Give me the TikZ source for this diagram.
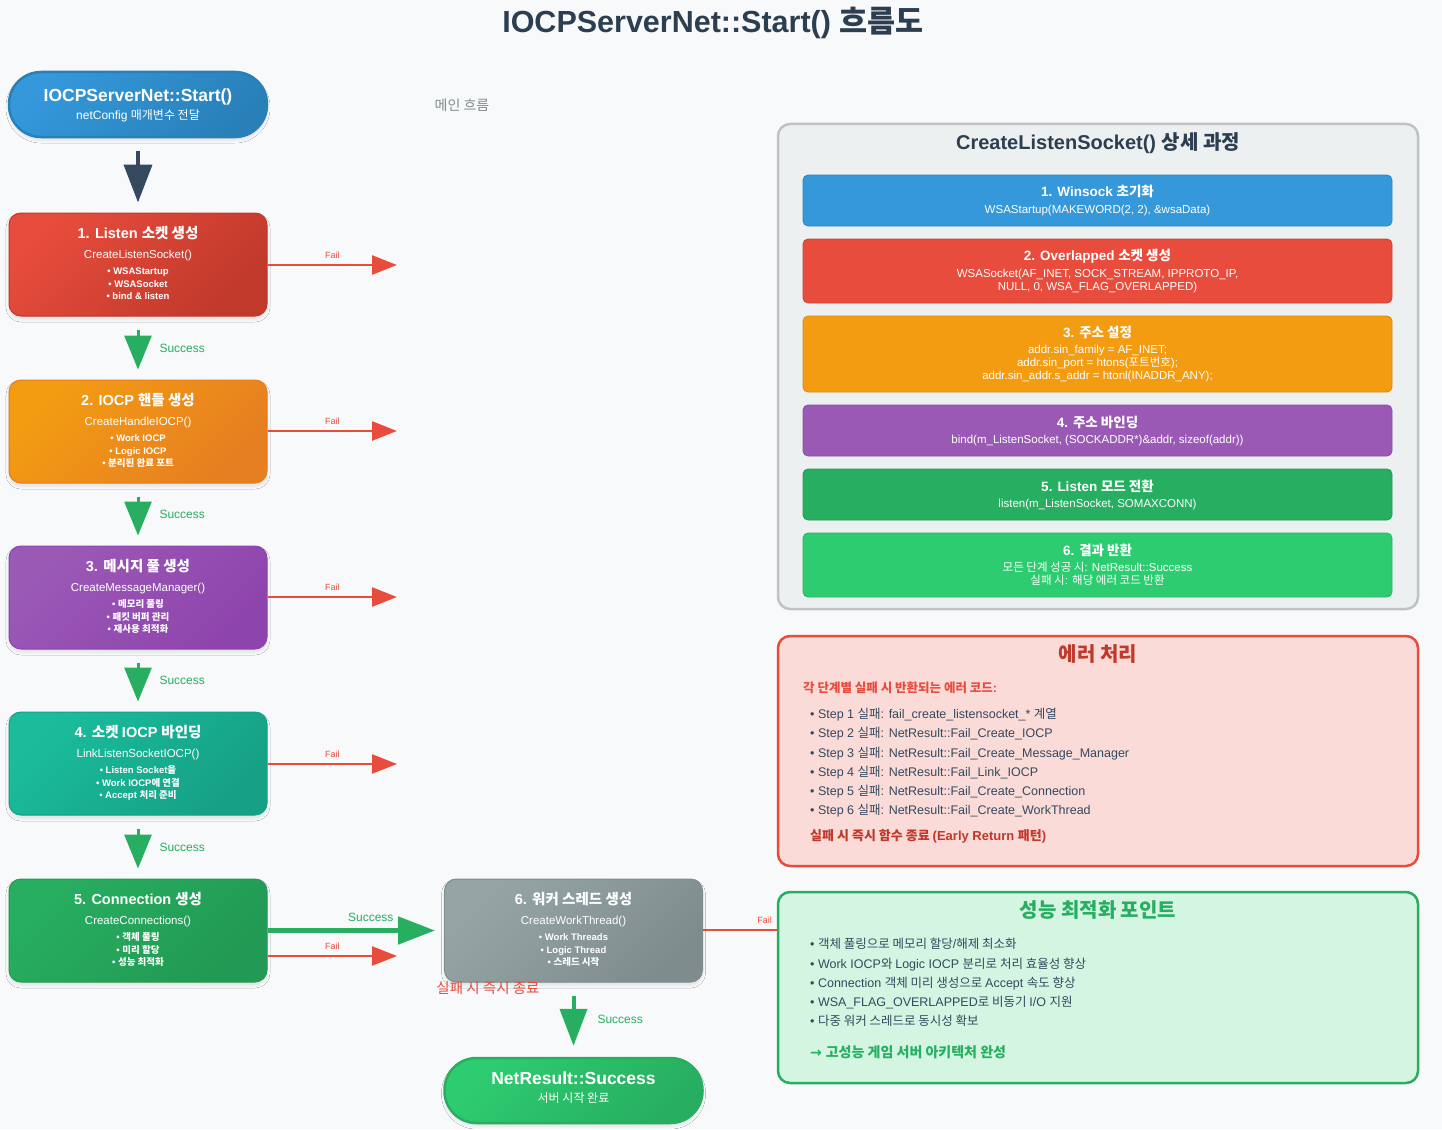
\documentclass[tikz,border=0pt]{standalone}
\usepackage{fontspec}
\setmainfont{Liberation Sans}
\newfontfamily\krfont{Noto Sans CJK KR}
\newfontfamily\symfont{DejaVu Sans}
\usetikzlibrary{arrows.meta,shadows.blur}

% Hangul syllables are set in the CJK family, everything else in Liberation Sans
\newcount\krcode
\newXeTeXintercharclass\krclass
\krcode="AC00
\loop
  \XeTeXcharclass\krcode=\krclass
  \advance\krcode by 1
\ifnum\krcode<"D7A4 \repeat
\newcount\othercls
\othercls=0
\loop
  \XeTeXinterchartoks\othercls\krclass={\krfont}
  \XeTeXinterchartoks\krclass\othercls={\rmfamily}
  \XeTeXinterchartoks 4095 \othercls={\rmfamily}
  \advance\othercls by 1
\ifnum\othercls<\krclass \repeat
\XeTeXinterchartoks 4095 \krclass={\krfont}

% a symbol set outside the font switching
\newcommand\sym[1]{\hbox{\XeTeXinterchartokenstate=0 \symfont #1}}

\definecolor{bgc}{HTML}{F8F9FA}
\definecolor{ink}{HTML}{2C3E50}
\definecolor{inkb}{HTML}{34495E}
\definecolor{muted}{HTML}{7F8C8D}
\definecolor{blueA}{HTML}{3498DB}\definecolor{blueB}{HTML}{2980B9}
\definecolor{redA}{HTML}{E74C3C}\definecolor{redB}{HTML}{C0392B}
\definecolor{orA}{HTML}{F39C12}\definecolor{orB}{HTML}{E67E22}
\definecolor{puA}{HTML}{9B59B6}\definecolor{puB}{HTML}{8E44AD}
\definecolor{teA}{HTML}{1ABC9C}\definecolor{teB}{HTML}{16A085}
\definecolor{grA}{HTML}{27AE60}\definecolor{grB}{HTML}{229954}
\definecolor{gyA}{HTML}{95A5A6}\definecolor{gyB}{HTML}{7F8C8D}
\definecolor{lgA}{HTML}{2ECC71}
\definecolor{panelbg}{HTML}{ECF0F1}\definecolor{panelln}{HTML}{BDC3C7}
\definecolor{errbg}{HTML}{FADBD8}\definecolor{perfbg}{HTML}{D5F5E3}

% text placed by its visual centre line
\newcommand\tx[6][]{\node[anchor=base,inner sep=0pt,font=\fontsize{#5pt}{#5pt}\selectfont,#1] (#2) at (#3,{#4+0.36*#5}) {#6};}
% the five text lines of a flow step
\newcommand\steptext[8]{%
  \tx[white]{#1t}{#2}{#3-31.5}{14.5}{\bfseries #4}
  \tx[white]{#1f}{#2}{#3-10.5}{11.5}{#5}
  \tx[white]{#1a}{#2}{#3+6.5}{9.5}{\bfseries • #6}
  \tx[white]{#1b}{#2}{#3+19.5}{9.5}{\bfseries • #7}
  \tx[white]{#1c}{#2}{#3+32}{9.5}{\bfseries • #8}}

\begin{document}
\XeTeXinterchartokenstate=1
\begin{tikzpicture}[x=1pt,y=-1pt,
  softshadow/.style={blur shadow={shadow xshift=0pt,shadow yshift=-3pt,shadow blur radius=3pt,shadow opacity=10}},
  flowbox/.style 2 args={rounded corners=12pt,minimum width=258pt,minimum height=103pt,inner sep=0pt,
    draw=#2,line width=1pt,top color=#1,bottom color=#2,shading angle=45,softshadow},
  pill/.style 2 args={rounded corners=32pt,minimum width=258pt,minimum height=65pt,inner sep=0pt,
    draw=#2,line width=2.5pt,top color=#1,bottom color=#2,shading angle=45,softshadow},
  detail/.style 2 args={rounded corners=5pt,minimum width=589pt,minimum height=#2,inner sep=0pt,
    fill=#1,draw=#1!88!black,line width=0.8pt},
  infobox/.style 2 args={rounded corners=12pt,minimum width=640pt,minimum height=#2,inner sep=0pt,
    fill=#1,line width=2.5pt},
  failarrow/.style={draw=redA,line width=2.5pt,-{Triangle[length=25pt,width=19pt]}},
  downarrow/.style={draw=grA,line width=3pt,-{Triangle[length=34pt,width=27pt]},shorten <=13pt,shorten >=10pt},
  faillabel/.style={text=redA,font=\fontsize{9pt}{9pt}\selectfont,inner sep=0pt},
  succlabel/.style={text=grA,font=\fontsize{12pt}{12pt}\selectfont,inner sep=0pt},
]
\useasboundingbox[fill=bgc] (0,0) rectangle (1442,1129);

% ---------- title ----------
\tx[text=ink]{title}{713}{22}{30.5}{\bfseries IOCPServerNet::Start() 흐름도}
\tx[text=muted]{mainlbl}{462}{105}{14}{메인 흐름}

% ---------- main flow ----------
\node[pill={blueA}{blueB}] (start) at (138,104.5) {};
\tx[white]{startT}{138}{95}{17.5}{\bfseries IOCPServerNet::Start()}
\tx[white]{startS}{138}{115}{12}{netConfig 매개변수 전달}

\node[flowbox={redA}{redB}] (s1) at (138,264.5) {};
\node[flowbox={orA}{orB}]   (s2) at (138,431.5) {};
\node[flowbox={puA}{puB}]   (s3) at (138,597.5) {};
\node[flowbox={teA}{teB}]   (s4) at (138,763.5) {};
\node[flowbox={grA}{grB}]   (s5) at (138,930.5) {};
\node[flowbox={gyA}{gyB}]   (s6) at (573.5,930.5) {};
\node[pill={lgA}{grA}]      (fin) at (573.5,1090.5) {};

\steptext{s1}{138}{264.5}{1. Listen 소켓 생성}{CreateListenSocket()}{WSAStartup}{WSASocket}{bind \& listen}
\steptext{s2}{138}{431.5}{2. IOCP 핸들 생성}{CreateHandleIOCP()}{Work IOCP}{Logic IOCP}{분리된 완료 포트}
\steptext{s3}{138}{597.5}{3. 메시지 풀 생성}{CreateMessageManager()}{메모리 풀링}{패킷 버퍼 관리}{재사용 최적화}
\steptext{s4}{138}{763.5}{4. 소켓 IOCP 바인딩}{LinkListenSocketIOCP()}{Listen Socket을}{Work IOCP에 연결}{Accept 처리 준비}
\steptext{s5}{138}{930.5}{5. Connection 생성}{CreateConnections()}{객체 풀링}{미리 할당}{성능 최적화}
\steptext{s6}{573.5}{930.5}{6. 워커 스레드 생성}{CreateWorkThread()}{Work Threads}{Logic Thread}{스레드 시작}

\tx[white]{finT}{573.5}{1078}{17.5}{\bfseries NetResult::Success}
\tx[white]{finS}{573.5}{1098}{12}{서버 시작 완료}

% downward connectors
\draw[downarrow,draw=inkb,line width=4pt,-{Triangle[length=38pt,width=28pt]}] (start) -- (s1);
\draw[downarrow] (s1) -- node[succlabel,right=20pt] (ok1) {Success} (s2);
\draw[downarrow] (s2) -- node[succlabel,right=20pt] (ok2) {Success} (s3);
\draw[downarrow] (s3) -- node[succlabel,right=20pt] (ok3) {Success} (s4);
\draw[downarrow] (s4) -- node[succlabel,right=20pt] (ok4) {Success} (s5);
\draw[downarrow,line width=4pt,-{Triangle[length=37pt,width=27pt]},shorten >=11pt] (s6) -- node[succlabel,right=22pt] (ok6) {Success} (fin);

% step 5 to step 6
\draw[draw=grA,line width=5pt,-{Triangle[length=37pt,width=27pt]},shorten >=9pt] (s5) -- node[succlabel,pos=0.585,above=6pt] (ok5) {Success} (s6);

% failure exits
\coordinate (f1) at (397,265);
\coordinate (f2) at (397,431);
\coordinate (f3) at (397,597);
\coordinate (f4) at (397,764);
\coordinate (f5) at (397,956);
\coordinate (f6) at (779,930);
\draw[failarrow] (s1.east |- f1) -- node[faillabel,above=5pt] (x1) {Fail} (f1);
\draw[failarrow] (s2.east |- f2) -- node[faillabel,above=5pt] (x2) {Fail} (f2);
\draw[failarrow] (s3.east |- f3) -- node[faillabel,above=5pt] (x3) {Fail} (f3);
\draw[failarrow] (s4.east |- f4) -- node[faillabel,above=5pt] (x4) {Fail} (f4);
\draw[failarrow] (s5.east |- f5) -- node[faillabel,above=5pt] (x5) {Fail} (f5);
\draw[draw=redA,line width=2.5pt] (s6.east |- f6) -- node[faillabel,pos=0.81,above=5pt] (x6) {Fail} (f6);

\tx[text=redA]{quit}{488}{988}{14.5}{실패 시 즉시 종료}

% ---------- CreateListenSocket detail panel ----------
\node[infobox={panelbg}{485pt},draw=panelln] (panel) at (1098,366.5) {};
\tx[text=ink]{panelT}{1098}{142}{20}{\bfseries CreateListenSocket() 상세 과정}

\node[detail={blueA}{51pt}] (d1) at (1097.5,200.5) {};
\node[detail={redA}{64pt}]  (d2) at (1097.5,271) {};
\node[detail={orA}{76pt}]   (d3) at (1097.5,354) {};
\node[detail={puA}{51pt}]   (d4) at (1097.5,430.5) {};
\node[detail={grA}{51pt}]   (d5) at (1097.5,494.5) {};
\node[detail={lgA}{64pt}]   (d6) at (1097.5,565) {};

\tx[white]{d1t}{1097.5}{192}{13.5}{\bfseries 1. Winsock 초기화}
\tx[white]{d1a}{1097.5}{209}{11.5}{WSAStartup(MAKEWORD(2, 2), \&wsaData)}
\tx[white]{d2t}{1097.5}{256}{13.5}{\bfseries 2. Overlapped 소켓 생성}
\tx[white]{d2a}{1097.5}{273}{11.5}{WSASocket(AF\_INET, SOCK\_STREAM, IPPROTO\_IP,}
\tx[white]{d2b}{1097.5}{286}{11.5}{NULL, 0, WSA\_FLAG\_OVERLAPPED)}
\tx[white]{d3t}{1097.5}{333}{13.5}{\bfseries 3. 주소 설정}
\tx[white]{d3a}{1097.5}{349}{11.5}{addr.sin\_family = AF\_INET;}
\tx[white]{d3b}{1097.5}{362}{11.5}{addr.sin\_port = htons(포트번호);}
\tx[white]{d3c}{1097.5}{375}{11.5}{addr.sin\_addr.s\_addr = htonl(INADDR\_ANY);}
\tx[white]{d4t}{1097.5}{423}{13.5}{\bfseries 4. 주소 바인딩}
\tx[white]{d4a}{1097.5}{439}{11.5}{bind(m\_ListenSocket, (SOCKADDR*)\&addr, sizeof(addr))}
\tx[white]{d5t}{1097.5}{487}{13.5}{\bfseries 5. Listen 모드 전환}
\tx[white]{d5a}{1097.5}{503}{11.5}{listen(m\_ListenSocket, SOMAXCONN)}
\tx[white]{d6t}{1097.5}{551}{13.5}{\bfseries 6. 결과 반환}
\tx[white]{d6a}{1097.5}{567}{11.5}{모든 단계 성공 시: NetResult::Success}
\tx[white]{d6b}{1097.5}{580}{11.5}{실패 시: 해당 에러 코드 반환}

% ---------- error handling ----------
\node[infobox={errbg}{230pt},draw=redA] (err) at (1098,751) {};
\tx[text=redB]{errT}{1098}{654}{20}{\bfseries 에러 처리}
\tx[text=redA,anchor=base west]{errS}{803}{688}{12.5}{\bfseries 각 단계별 실패 시 반환되는 에러 코드:}
\tx[text=inkb,anchor=base west]{e1}{810}{714}{12.5}{• Step 1 실패: fail\_create\_listensocket\_* 계열}
\tx[text=inkb,anchor=base west]{e2}{810}{733}{12.5}{• Step 2 실패: NetResult::Fail\_Create\_IOCP}
\tx[text=inkb,anchor=base west]{e3}{810}{753}{12.5}{• Step 3 실패: NetResult::Fail\_Create\_Message\_Manager}
\tx[text=inkb,anchor=base west]{e4}{810}{772}{12.5}{• Step 4 실패: NetResult::Fail\_Link\_IOCP}
\tx[text=inkb,anchor=base west]{e5}{810}{791}{12.5}{• Step 5 실패: NetResult::Fail\_Create\_Connection}
\tx[text=inkb,anchor=base west]{e6}{810}{810}{12.5}{• Step 6 실패: NetResult::Fail\_Create\_WorkThread}
\tx[text=redB,anchor=base west]{errN}{810}{836}{13}{\bfseries 실패 시 즉시 함수 종료 (Early Return 패턴)}

% ---------- performance notes ----------
\node[infobox={perfbg}{191pt},draw=grA] (perf) at (1098,987.5) {};
\tx[text=grA]{perfT}{1098}{910}{20}{\bfseries 성능 최적화 포인트}
\tx[text=inkb,anchor=base west]{p1}{810}{944}{12.5}{• 객체 풀링으로 메모리 할당/해제 최소화}
\tx[text=inkb,anchor=base west]{p2}{810}{964}{12.5}{• Work IOCP와 Logic IOCP 분리로 처리 효율성 향상}
\tx[text=inkb,anchor=base west]{p3}{810}{983}{12.5}{• Connection 객체 미리 생성으로 Accept 속도 향상}
\tx[text=inkb,anchor=base west]{p4}{810}{1002}{12.5}{• WSA\_FLAG\_OVERLAPPED로 비동기 I/O 지원}
\tx[text=inkb,anchor=base west]{p5}{810}{1021}{12.5}{• 다중 워커 스레드로 동시성 확보}
\tx[text=grA,anchor=base west]{perfN}{810}{1052}{14}{\bfseries \sym{→} 고성능 게임 서버 아키텍처 완성}
\end{tikzpicture}
\end{document}
